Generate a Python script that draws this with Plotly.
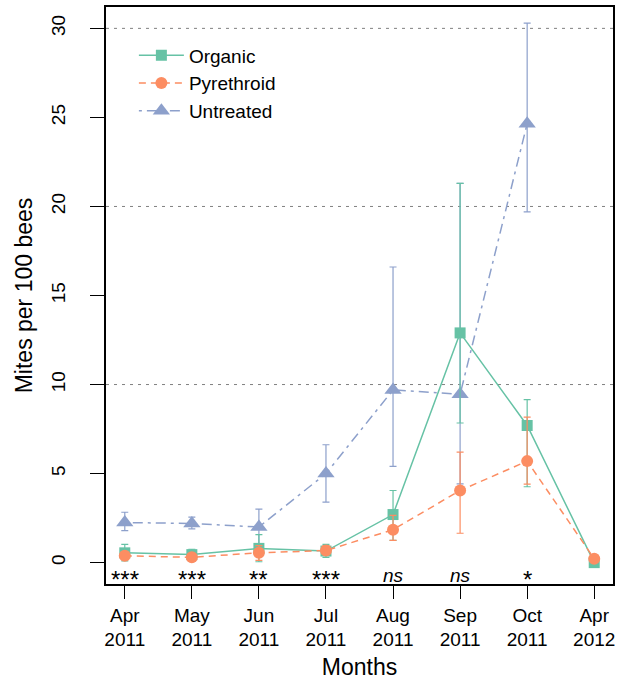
import plotly.graph_objects as go

# ---------------- data ----------------
month_labels = ["Apr<br>2011", "May<br>2011", "Jun<br>2011", "Jul<br>2011",
                "Aug<br>2011", "Sep<br>2011", "Oct<br>2011", "Apr<br>2012"]
month_idx = [1, 2, 3, 4, 5, 6, 7, 8]

organic = [0.55, 0.45, 0.8, 0.65, 2.7, 12.9, 7.7, 0.0]
organic_hi = [1.02, 0.75, 1.57, 1.02, 4.05, 21.3, 9.15, None]
organic_lo = [0.10, 0.15, 0.05, 0.30, 1.25, 7.84, 4.26, None]

pyrethroid = [0.38, 0.30, 0.55, 0.68, 1.85, 4.05, 5.7, 0.22]
pyrethroid_hi = [0.60, 0.45, 0.95, 0.95, 2.65, 6.2, 8.17, None]
pyrethroid_lo = [0.18, 0.15, 0.13, 0.45, 1.25, 1.65, 4.41, None]

untreated = [2.25, 2.2, 2.0, 5.0, 9.7, 9.45, 24.65, None]
untreated_hi = [2.83, 2.55, 3.0, 6.62, 16.6, 21.3, 30.3, None]
untreated_lo = [1.80, 1.90, 1.0, 3.4, 5.4, 4.42, 19.7, None]

signif = ["***", "***", "**", "***", "ns", "ns", "*", ""]
grid_levels = [10, 20, 30]
y_ticks = [0, 5, 10, 15, 20, 25, 30]


def up(m, h):
    return [None if (a is None or b is None) else b - a for a, b in zip(m, h)]


def down(m, l):
    return [None if (a is None or b is None) else a - b for a, b in zip(m, l)]


# drawing order: Untreated underneath, legend order kept with legendrank
series = [
    ("Untreated", untreated, untreated_hi, untreated_lo, "#8DA0CB", "3px,5px,10px,5px", "triangle-up", 15, 3),
    ("Organic", organic, organic_hi, organic_lo, "#66C2A5", "solid", "square", 11, 1),
    ("Pyrethroid", pyrethroid, pyrethroid_hi, pyrethroid_lo, "#FC8D62", "7px,5px", "circle", 12, 2),
]

fig = go.Figure()
for name, m, h, l, col, dash, sym, sz, rank in series:
    fig.add_trace(go.Scatter(
        x=month_idx, y=m, name=name, mode="lines+markers", legendrank=rank,
        line=dict(color=col, width=1.5, dash=dash),
        marker=dict(symbol=sym, size=sz, color=col, line=dict(width=0)),
        error_y=dict(type="data", symmetric=False, array=up(m, h),
                     arrayminus=down(m, l), color=col, thickness=1.2, width=3.5),
    ))

shapes = []
for g in grid_levels:
    shapes.append(dict(type="line", xref="paper", yref="y", x0=0, x1=1, y0=g, y1=g,
                       line=dict(color="#808080", width=1, dash="3px,5px"), layer="below"))

annotations = []
for xi, s in zip(month_idx, signif):
    if not s:
        continue
    if s == "ns":
        annotations.append(dict(x=xi, y=0, xref="x", yref="paper", text="<i>ns</i>",
                                showarrow=False, yanchor="bottom", yshift=-4,
                                font=dict(size=19, color="black", family="Liberation Sans, Arial")))
    else:
        annotations.append(dict(x=xi, y=0, xref="x", yref="paper", text=s,
                                showarrow=False, yanchor="bottom", yshift=-11,
                                font=dict(size=24, color="black", family="Liberation Sans, Arial")))

fig.update_layout(
    width=621, height=680,
    margin=dict(l=106, r=8, t=7, b=96),
    paper_bgcolor="white", plot_bgcolor="white",
    font=dict(family="Liberation Sans, Arial", size=19, color="black"),
    shapes=shapes, annotations=annotations,
    showlegend=True,
    legend=dict(x=0.055, y=0.949, xanchor="left", yanchor="top", itemwidth=45,
                bgcolor="rgba(0,0,0,0)", font=dict(size=19)),
    xaxis=dict(range=[0.72, 8.28], tickvals=month_idx, ticktext=month_labels,
               automargin=False,
               showgrid=False, zeroline=False, showline=True, mirror=True,
               linecolor="black", linewidth=1.5, ticks="outside", ticklen=13,
               tickwidth=1.3, tickcolor="black", tickfont=dict(size=19),
               title=dict(text="Months", font=dict(size=23), standoff=12)),
    yaxis=dict(range=[-1.2, 31.2], tickvals=y_ticks, showgrid=False, zeroline=False,
               automargin=False,
               showline=True, mirror=True, linecolor="black", linewidth=1.5,
               ticks="outside", ticklen=14, tickwidth=1.3, tickcolor="black",
               tickangle=-90, tickfont=dict(size=19), ticklabelstandoff=18,
               title=dict(text="Mites per 100 bees", font=dict(size=23), standoff=9)),
)

fig.write_html("out.html")
